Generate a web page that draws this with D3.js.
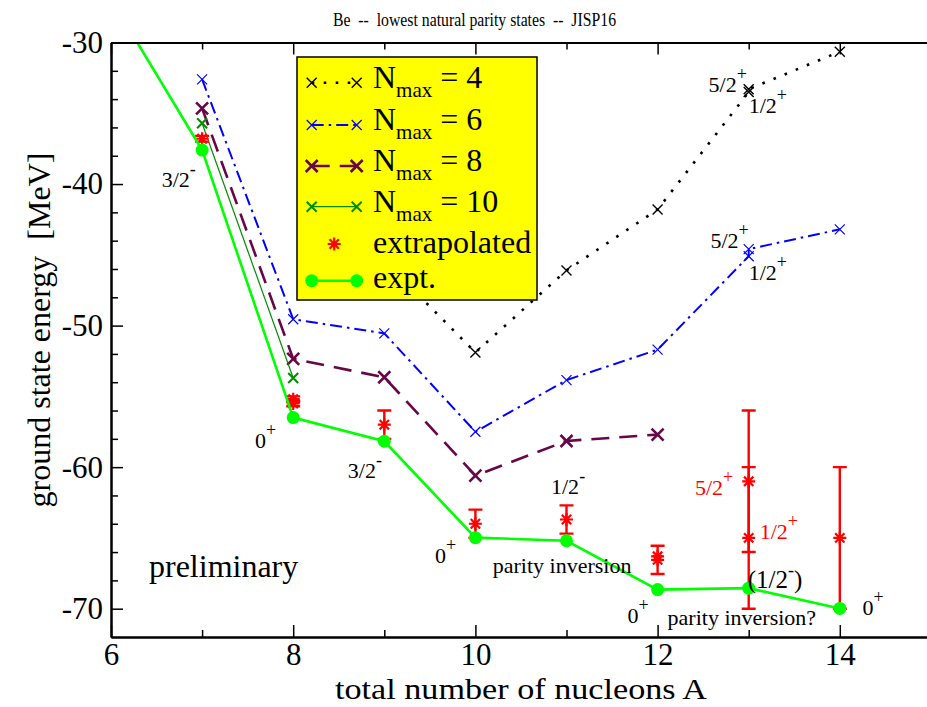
<!DOCTYPE html>
<html>
<head>
<meta charset="utf-8">
<script src="https://cdn.jsdelivr.net/npm/d3@7"></script>
<style>
  body { margin: 0; background: #fff; }
  svg text { font-family: "Liberation Serif", "Times New Roman", Times, serif; white-space: pre; }
</style>
</head>
<body>
<svg id="chart" width="927" height="707"></svg>
<script>
// ---- Be isotopes: ground state energies (MeV) vs. mass number A ----
const A_EXPT = [6, 7, 8, 9, 10, 11, 12, 13, 14];
const E_EXPT = [-26.92, -37.60, -56.50, -58.17, -64.98, -65.20, -68.65, -68.55, -69.98];

const A_N4 = [9, 10, 11, 12, 13, 13, 14];
const E_N4 = [-45.4, -51.9, -46.1, -41.8, -33.5, -33.3, -30.65];

const A_N6 = [7, 8, 9, 10, 11, 12, 13, 13, 14];
const E_N6 = [-32.6, -49.55, -50.55, -57.5, -53.85, -51.7, -45.1, -44.6, -43.2];

const A_N8 = [7, 8, 9, 10, 11, 12];
const E_N8 = [-34.65, -52.35, -53.65, -60.6, -58.15, -57.7];

const A_N10 = [7, 8];
const E_N10 = [-35.7, -53.7];

const A_EXTRAP = [7, 8, 8, 9, 10, 11, 12, 12, 13, 13, 14];
const E_EXTRAP = [-36.8, -55.2, -55.5, -57.0, -64.0, -63.7, -66.55, -66.3, -61.0, -65.0, -65.0];
const ERR_EXTRAP = [0.2, 0.2, 0.2, 1.0, 1.0, 1.0, 1.0, 0, 5.0, 5.0, 5.0];

const X_MAJOR = [6, 8, 10, 12, 14];
const X_MINOR = [7, 9, 11, 13];
const Y_MAJOR = [-70, -60, -50, -40, -30];
const Y_MINOR = [-68, -66, -64, -62, -58, -56, -54, -52, -48, -46, -44, -42, -38, -36, -34, -32];

const TITLE = "Be  --  lowest natural parity states  --  JISP16";
const X_TITLE = "total number of nucleons A";
const Y_TITLE = "ground state energy  [MeV]";

// state labels: text, superscript, anchor (A, E), colour, size, trailing text
const LABELS = [
  { t: "3/2", s: "-", a: 6.556, e: -40.19 },
  { t: "0", s: "+", a: 7.58, e: -58.66 },
  { t: "3/2", s: "-", a: 8.60, e: -60.74 },
  { t: "0", s: "+", a: 9.557, e: -66.76 },
  { t: "1/2", s: "-", a: 10.83, e: -61.91 },
  { t: "parity inversion", a: 10.19, e: -67.49, fs: 22 },
  { t: "0", s: "+", a: 11.67, e: -71.0 },
  { t: "parity inversion?", a: 12.11, e: -71.17, fs: 22 },
  { t: "(1/2", s: "-", after: ")", a: 12.99, e: -68.55, fs: 25 },
  { t: "0", s: "+", a: 14.25, e: -70.46 },
  { t: "5/2", s: "+", a: 12.56, e: -33.48 },
  { t: "1/2", s: "+", a: 13.0, e: -35.0 },
  { t: "5/2", s: "+", a: 12.58, e: -44.54 },
  { t: "1/2", s: "+", a: 13.0, e: -46.78 },
  { t: "5/2", s: "+", a: 12.41, e: -61.98, c: "#ff0000" },
  { t: "1/2", s: "+", a: 13.12, e: -65.11, c: "#ff0000" },
  { t: "preliminary", a: 6.417, e: -67.77, fs: 32 }
];

(function draw() {
  const svg = d3.select("#chart");
  const plotLeft = 111, plotTop = 42.5, plotBottom = 637, unit = 91.1;
  const x = d3.scaleLinear().domain([6, 15]).range([plotLeft, plotLeft + 9 * unit]);
  const y = d3.scaleLinear().domain([-72, -30]).range([plotBottom, plotTop]);

  const COL = {
    n4: "#000000", n6: "#0000ff", n8: "rgb(103,7,72)", n10: "rgb(0,139,0)",
    extrap: "#ff0000", expt: "#00ff00"
  };

  svg.append("defs").append("clipPath").attr("id", "plotclip")
    .append("rect").attr("x", plotLeft).attr("y", plotTop)
    .attr("width", 9 * unit).attr("height", plotBottom - plotTop);

  const plot = svg.append("g").attr("clip-path", "url(#plotclip)");

  function crossPath(cx, cy, h) {
    return `M${cx - h},${cy - h}L${cx + h},${cy + h}M${cx - h},${cy + h}L${cx + h},${cy - h}`;
  }
  function starPath(cx, cy, h) {
    const d = h * 0.72;
    return `M${cx - h},${cy}L${cx + h},${cy}M${cx},${cy - h}L${cx},${cy + h}` +
           `M${cx - d},${cy - d}L${cx + d},${cy + d}M${cx - d},${cy + d}L${cx + d},${cy - d}`;
  }

  const line = d3.line().x(d => x(d[0])).y(d => y(d[1]));

  const STYLE = {
    n4: { lw: 2.6, dash: "2.6,9.4", ms: 5, mw: 1.4 },
    n6: { lw: 2, dash: "12,5,2.5,5", ms: 5, mw: 1.2 },
    n8: { lw: 2.6, dash: "18,10", ms: 6, mw: 2.6 },
    n10: { lw: 1.2, dash: null, ms: 5, mw: 2 }
  };

  function series(As, Es, key) {
    const s = STYLE[key], color = COL[key];
    const pts = As.map((a, i) => [a, Es[i]]);
    plot.append("path").attr("d", line(pts)).attr("fill", "none")
      .attr("stroke", color).attr("stroke-width", s.lw)
      .attr("stroke-dasharray", s.dash);
    plot.append("g").selectAll("path").data(pts).join("path")
      .attr("d", d => crossPath(x(d[0]), y(d[1]), s.ms))
      .attr("stroke", color).attr("stroke-width", s.mw).attr("fill", "none");
  }

  series(A_N4, E_N4, "n4");
  series(A_N6, E_N6, "n6");
  series(A_N8, E_N8, "n8");
  series(A_N10, E_N10, "n10");

  // extrapolated values with error bars
  const ext = A_EXTRAP.map((a, i) => ({ a, e: E_EXTRAP[i], err: ERR_EXTRAP[i] }));
  const eb = plot.append("g").attr("stroke", COL.extrap).attr("fill", "none");
  ext.forEach(d => {
    const cx = x(d.a), y1 = y(d.e + d.err), y2 = y(d.e - d.err);
    if (d.err > 0) {
      eb.append("path").attr("stroke-width", 2.4)
        .attr("d", `M${cx},${y1}L${cx},${y2}M${cx - 7},${y1}L${cx + 7},${y1}M${cx - 7},${y2}L${cx + 7},${y2}`);
    }
    eb.append("path").attr("stroke-width", 2.2).attr("d", starPath(cx, y(d.e), 6.5));
  });

  // experiment
  const exptPts = A_EXPT.map((a, i) => [a, E_EXPT[i]]);
  plot.append("path").attr("d", line(exptPts)).attr("fill", "none")
    .attr("stroke", COL.expt).attr("stroke-width", 2.6);
  plot.append("g").selectAll("circle").data(exptPts).join("circle")
    .attr("cx", d => x(d[0])).attr("cy", d => y(d[1])).attr("r", 6.5)
    .attr("fill", COL.expt);

  // ---- axes ----
  function styleAxis(g) {
    g.selectAll("path.domain").attr("stroke", "#000").attr("stroke-width", 2);
    g.selectAll("line").attr("stroke", "#000").attr("stroke-width", 1.5);
    g.selectAll("text").attr("fill", "#000").style("font-size", "31px")
      .style("font-family", "'Liberation Serif','Times New Roman',serif");
  }
  const fmt = d => String(d);

  svg.append("g").attr("transform", `translate(0,${plotBottom})`)
    .call(d3.axisBottom(x).tickValues(X_MINOR).tickSize(-7).tickSizeOuter(0).tickFormat(""))
    .call(styleAxis);
  svg.append("g").attr("transform", `translate(0,${plotBottom})`)
    .call(d3.axisBottom(x).tickValues(X_MAJOR).tickSize(-12).tickSizeOuter(0).tickPadding(6).tickFormat(fmt))
    .call(styleAxis);
  svg.append("g").attr("transform", `translate(0,${plotTop})`)
    .call(d3.axisTop(x).tickValues(X_MINOR).tickSize(-7).tickSizeOuter(0).tickFormat(""))
    .call(styleAxis);
  svg.append("g").attr("transform", `translate(0,${plotTop})`)
    .call(d3.axisTop(x).tickValues(X_MAJOR).tickSize(-12).tickSizeOuter(0).tickFormat(""))
    .call(styleAxis);
  svg.append("g").attr("transform", `translate(${plotLeft},0)`)
    .call(d3.axisLeft(y).tickValues(Y_MINOR).tickSize(-7).tickSizeOuter(0).tickFormat(""))
    .call(styleAxis);
  svg.append("g").attr("transform", `translate(${plotLeft},0)`)
    .call(d3.axisLeft(y).tickValues(Y_MAJOR).tickSize(-12).tickSizeOuter(0).tickPadding(8).tickFormat(fmt))
    .call(styleAxis);

  // ---- titles ----
  svg.append("text").attr("x", 474.5).attr("y", 25.5).attr("text-anchor", "middle")
    .attr("textLength", 283).attr("lengthAdjust", "spacingAndGlyphs")
    .style("font-size", "19px").attr("fill", "#000").text(TITLE);
  svg.append("text").attr("x", 521).attr("y", 699).attr("text-anchor", "middle")
    .attr("textLength", 372).attr("lengthAdjust", "spacingAndGlyphs")
    .style("font-size", "30px").attr("fill", "#000").text(X_TITLE);
  svg.append("text").attr("transform", "translate(50,330) rotate(-90)").attr("text-anchor", "middle")
    .style("font-size", "32px").attr("fill", "#000").text(Y_TITLE);

  // ---- state labels ----
  const lab = svg.append("g");
  LABELS.forEach(l => {
    const fs = l.fs || 22;
    const t = lab.append("text").attr("x", x(l.a)).attr("y", y(l.e))
      .attr("fill", l.c || "#000").style("font-size", fs + "px");
    t.append("tspan").text(l.t);
    if (l.s) t.append("tspan").attr("dy", -12).style("font-size", "18px").text(l.s);
    if (l.after) t.append("tspan").attr("dy", 12).style("font-size", fs + "px").text(l.after);
  });

  // ---- legend ----
  const leg = svg.append("g");
  leg.append("rect").attr("x", 297).attr("y", 57).attr("width", 240).attr("height", 243)
    .attr("fill", "#ffff00").attr("stroke", "#000").attr("stroke-width", 1.5);
  const LX1 = 311.7, LX2 = 356.7, LT = 373;
  const legRows = [
    { y: 82.7, kind: "n4", n: "4" },
    { y: 125, kind: "n6", n: "6" },
    { y: 166, kind: "n8", n: "8" },
    { y: 206.7, kind: "n10", n: "10" },
    { y: 246, kind: "extrap", txt: "extrapolated" },
    { y: 280.7, kind: "expt", txt: "expt." }
  ];
  legRows.forEach(r => {
    const c = COL[r.kind];
    if (STYLE[r.kind]) {
      const s = STYLE[r.kind];
      leg.append("line").attr("x1", LX1).attr("x2", LX2).attr("y1", r.y).attr("y2", r.y)
        .attr("stroke", c).attr("stroke-width", s.lw).attr("stroke-dasharray", s.dash);
      [LX1, LX2].forEach(px => leg.append("path").attr("d", crossPath(px, r.y, s.ms))
        .attr("stroke", c).attr("stroke-width", s.mw).attr("fill", "none"));
      const t = leg.append("text").attr("x", LT).attr("y", r.y + 5).attr("fill", "#000")
        .style("font-size", "32px");
      t.append("tspan").text("N");
      t.append("tspan").attr("dy", 9).style("font-size", "21px").text("max");
      t.append("tspan").attr("dy", -9).text(" = " + r.n);
    } else {
      if (r.kind === "extrap") {
        leg.append("path").attr("d", starPath((LX1 + LX2) / 2, r.y - 2, 6.5))
          .attr("stroke", c).attr("stroke-width", 2.2).attr("fill", "none");
      } else {
        leg.append("line").attr("x1", LX1).attr("x2", LX2).attr("y1", r.y).attr("y2", r.y)
          .attr("stroke", c).attr("stroke-width", 2.6);
        [LX1, LX2].forEach(px => leg.append("circle").attr("cx", px).attr("cy", r.y)
          .attr("r", 6.5).attr("fill", c));
      }
      leg.append("text").attr("x", LT).attr("y", r.y + 7).attr("fill", "#000")
        .style("font-size", "32px").text(r.txt);
    }
  });
})();
</script>
</body>
</html>
